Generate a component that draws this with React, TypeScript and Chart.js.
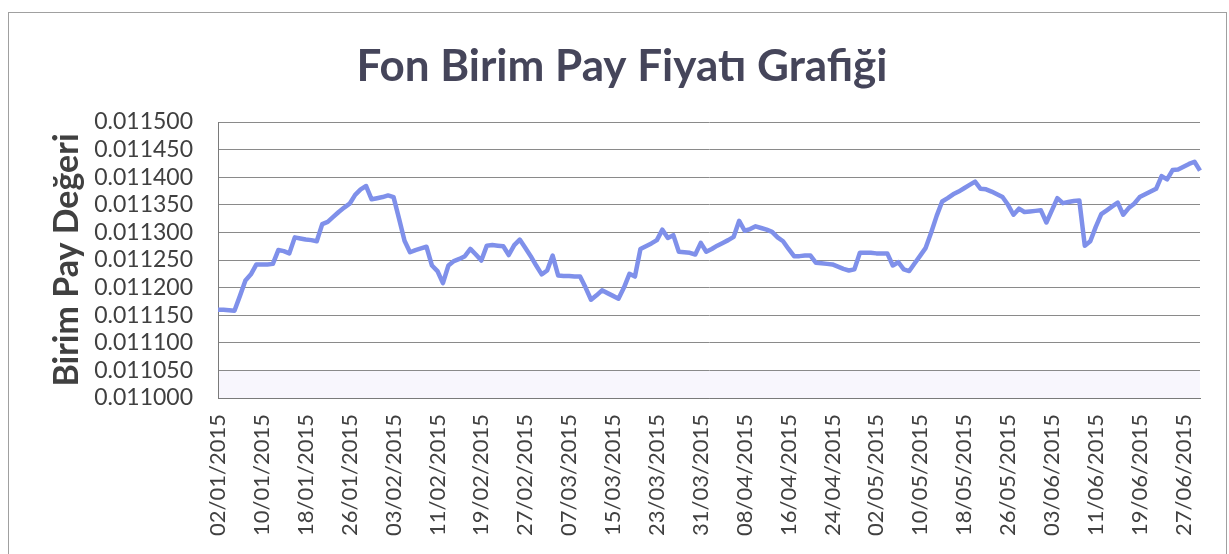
import React, { useEffect, useRef } from "react";
import { Chart, registerables } from "chart.js";

Chart.register(...registerables);

const TITLE = "Fon Birim Pay Fiyatı Grafiği";
const Y_TITLE = "Birim Pay Değeri";

const START_DAY = "2015-01-02";
const DAY_COUNT = 180;
const LABEL_EVERY = 8;

const Y_MIN = 0.011;
const Y_MAX = 0.0115;
const Y_STEP = 0.00005;

// Daily unit price values, 02/01/2015 .. 30/06/2015
const prices: number[] = [
  0.011160, 0.011160, 0.011159, 0.011158, 0.011185, 0.011213, 0.011224, 0.011242, 0.011242, 0.011242,
  0.011243, 0.011268, 0.011266, 0.011262, 0.011291, 0.011289, 0.011287, 0.011286, 0.011284, 0.011315,
  0.011319, 0.011328, 0.011337, 0.011345, 0.011352, 0.011368, 0.011378, 0.011384, 0.011360, 0.011362,
  0.011364, 0.011367, 0.011364, 0.011325, 0.011285, 0.011264, 0.011268, 0.011271, 0.011274, 0.011240,
  0.011230, 0.011208, 0.011240, 0.011248, 0.011252, 0.011257, 0.011270, 0.011260, 0.011249, 0.011276,
  0.011277, 0.011276, 0.011275, 0.011259, 0.011277, 0.011287, 0.011272, 0.011257, 0.011240, 0.011224,
  0.011231, 0.011258, 0.011222, 0.011221, 0.011221, 0.011220, 0.011220, 0.011200, 0.011178, 0.011186,
  0.011195, 0.011190, 0.011185, 0.011180, 0.011200, 0.011225, 0.011220, 0.011270, 0.011275, 0.011280,
  0.011286, 0.011305, 0.011290, 0.011295, 0.011265, 0.011264, 0.011263, 0.011260, 0.011281, 0.011265,
  0.011270, 0.011276, 0.011281, 0.011286, 0.011292, 0.011321, 0.011303, 0.011306, 0.011311, 0.011308,
  0.011305, 0.011301, 0.011291, 0.011284, 0.011270, 0.011257, 0.011257, 0.011258, 0.011258, 0.011245,
  0.011244, 0.011243, 0.011242, 0.011238, 0.011234, 0.011231, 0.011233, 0.011263, 0.011263, 0.011263,
  0.011262, 0.011262, 0.011262, 0.011240, 0.011246, 0.011233, 0.011230, 0.011244, 0.011258, 0.011272,
  0.011300, 0.011330, 0.011356, 0.011362, 0.011369, 0.011374, 0.011380, 0.011386, 0.011392, 0.011379,
  0.011378, 0.011374, 0.011369, 0.011364, 0.011350, 0.011332, 0.011343, 0.011337, 0.011338, 0.011339,
  0.011340, 0.011318, 0.011340, 0.011362, 0.011353, 0.011355, 0.011357, 0.011358, 0.011276, 0.011284,
  0.011310, 0.011333, 0.011340, 0.011347, 0.011354, 0.011332, 0.011344, 0.011352, 0.011364, 0.011369,
  0.011374, 0.011379, 0.011402, 0.011396, 0.011413, 0.011414, 0.011419, 0.011424, 0.011428, 0.011412,
];

function buildDates(start: string, count: number): string[] {
  const out: string[] = [];
  const d = new Date(start + "T00:00:00Z");
  for (let i = 0; i < count; i++) {
    const dd = String(d.getUTCDate()).padStart(2, "0");
    const mm = String(d.getUTCMonth() + 1).padStart(2, "0");
    out.push(`${dd}/${mm}/${d.getUTCFullYear()}`);
    d.setUTCDate(d.getUTCDate() + 1);
  }
  return out;
}

const dates = buildDates(START_DAY, DAY_COUNT);

const FONT = "Lato, 'Open Sans', 'DejaVu Sans', sans-serif";

const decorPlugin = {
  id: "decor",
  beforeDraw(chart: any) {
    const { ctx, chartArea, scales } = chart;
    ctx.save();
    ctx.fillStyle = "#ffffff";
    ctx.fillRect(0, 0, chart.width, chart.height);
    // outer chart border
    ctx.strokeStyle = "#a0a0a0";
    ctx.lineWidth = 1;
    ctx.strokeRect(8.5, 12.5, 1218, 560);
    // faint lavender tint in lowest band
    const y0 = scales.y.getPixelForValue(Y_MIN);
    const y1 = scales.y.getPixelForValue(Y_MIN + Y_STEP);
    ctx.fillStyle = "rgba(240, 234, 250, 0.45)";
    ctx.fillRect(chartArea.left, y1, chartArea.right - chartArea.left, y0 - y1);
    // title
    ctx.fillStyle = "#45455a";
    ctx.font = `bold 44px ${FONT}`;
    ctx.textAlign = "center";
    ctx.textBaseline = "alphabetic";
    ctx.fillText(TITLE, 622, 81);
    ctx.restore();
  },
};

export default function App() {
  const ref = useRef<HTMLCanvasElement | null>(null);

  useEffect(() => {
    if (!ref.current) return;
    const chart = new Chart(ref.current, {
      type: "line",
      data: {
        labels: dates,
        datasets: [
          {
            data: prices,
            borderColor: "#7f90ea",
            borderWidth: 4.5,
            pointRadius: 0,
            tension: 0,
            borderJoinStyle: "round",
            fill: false,
          },
        ],
      },
      options: {
        animation: false,
        responsive: false,
        maintainAspectRatio: false,
        layout: { padding: { top: 122, right: 29, left: 0, bottom: 0 } },
        plugins: {
          legend: { display: false },
          title: { display: false },
          tooltip: { enabled: false },
        },
        scales: {
          x: {
            type: "category",
            offset: false,
            grid: { display: false, drawTicks: false },
            border: { display: true, color: "#7a7a7a", width: 1 },
            ticks: {
              autoSkip: false,
              minRotation: 90,
              maxRotation: 90,
              padding: 16,
              color: "#404040",
              font: { family: FONT, size: 22 },
              callback: (_v: any, i: number) => (i % LABEL_EVERY === 0 ? dates[i] : ""),
            },
            afterFit: (s: any) => {
              s.height = 156;
              s.paddingLeft = 0;
              s.paddingRight = 0;
            },
          },
          y: {
            min: Y_MIN,
            max: Y_MAX,
            grid: { color: "#8a8a8a", lineWidth: 1, drawTicks: false },
            border: { display: true, color: "#7a7a7a", width: 1 },
            ticks: {
              stepSize: Y_STEP,
              autoSkip: false,
              padding: 25,
              color: "#404040",
              font: { family: FONT, size: 23 },
              callback: (v: any) => Number(v).toFixed(6),
            },
            title: {
              display: true,
              text: Y_TITLE,
              color: "#404040",
              font: { family: FONT, size: 34, weight: "bold" },
              padding: { top: 47, bottom: 0 },
            },
            afterFit: (s: any) => {
              s.width = 218;
              s.paddingTop = 0;
              s.paddingBottom = 0;
            },
          },
        },
      },
      plugins: [decorPlugin],
    });
    return () => chart.destroy();
  }, []);

  return (
    <div style={{ position: "fixed", left: 0, top: 0, width: 1229, height: 554 }}>
      <canvas ref={ref} width={1229} height={554} style={{ width: 1229, height: 554, display: "block" }} />
    </div>
  );
}
